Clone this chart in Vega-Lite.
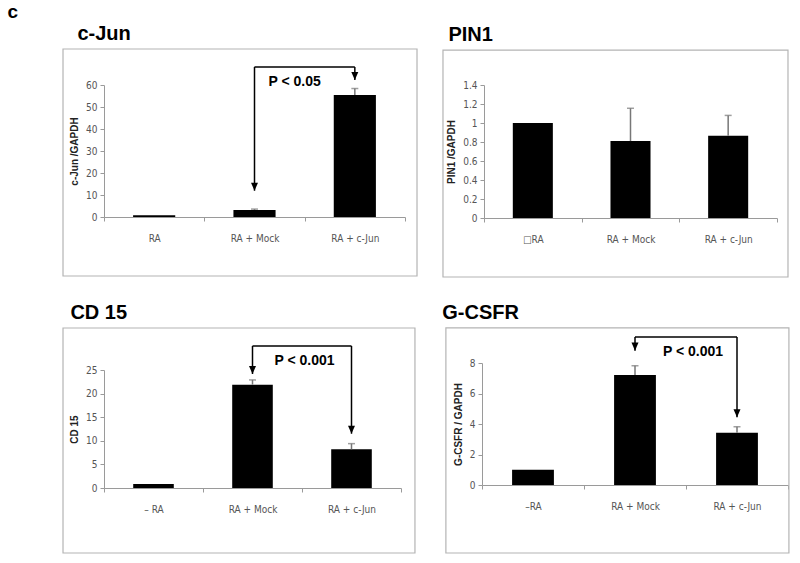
{
  "$schema": "https://vega.github.io/schema/vega-lite/v6.json",
  "padding": {"left": 7, "top": 3, "right": 5, "bottom": 5},
  "title": {"text": "c", "anchor": "start", "fontSize": 19, "fontWeight": "bold", "font": "Liberation Sans", "dx": -55, "offset": 2, "color": "#000"},
  "datasets": {
    "bars": [
      {"panel": "c-Jun", "group": "RA", "value": 0.8, "upper": null},
      {"panel": "c-Jun", "group": "RA + Mock", "value": 3.2, "upper": 3.6},
      {"panel": "c-Jun", "group": "RA + c-Jun", "value": 55.5, "upper": 58.4},
      {"panel": "PIN1", "group": "□RA", "value": 1.0, "upper": null},
      {"panel": "PIN1", "group": "RA + Mock", "value": 0.81, "upper": 1.155},
      {"panel": "PIN1", "group": "RA + c-Jun", "value": 0.865, "upper": 1.08},
      {"panel": "CD 15", "group": "– RA", "value": 0.85, "upper": null},
      {"panel": "CD 15", "group": "RA + Mock", "value": 21.9, "upper": 22.9},
      {"panel": "CD 15", "group": "RA + c-Jun", "value": 8.2, "upper": 9.4},
      {"panel": "G-CSFR", "group": "–RA", "value": 1.0, "upper": null},
      {"panel": "G-CSFR", "group": "RA + Mock", "value": 7.22, "upper": 7.82},
      {"panel": "G-CSFR", "group": "RA + c-Jun", "value": 3.42, "upper": 3.82}
    ],
    "brackets": [
      {"panel": "c-Jun", "from": "RA + Mock", "to": "RA + c-Jun", "top": 68.2, "tipFrom": 11.95, "tipTo": 62.3, "label": "P < 0.05"},
      {"panel": "CD 15", "from": "RA + Mock", "to": "RA + c-Jun", "top": 30.08, "tipFrom": 24.15, "tipTo": 11.5, "label": "P < 0.001"},
      {"panel": "G-CSFR", "from": "RA + Mock", "to": "RA + c-Jun", "top": 9.7, "tipFrom": 8.81, "tipTo": 4.44, "label": "P < 0.001"}
    ]
  },
  "columns": 2,
  "align": "none",
  "spacing": {"row": 25, "column": 24},
  "concat": [
    {
      "title": {"text": "c-Jun", "anchor": "start", "dx": 15, "fontSize": 20, "fontWeight": "bold", "font": "Liberation Sans", "offset": 4, "color": "#000"},
      "width": 301, "height": 132,
      "resolve": {"scale": {"x": "independent"}},
      "layer": [
        {"data": {"values": [{}]}, "mark": {"type": "rect", "fill": null, "stroke": "#b4b4b4", "strokeWidth": 1.2},
         "encoding": {
           "x": {"datum": -0.1362, "type": "quantitative", "scale": {"domain": [0, 1], "nice": false, "zero": false}, "axis": null},
           "x2": {"datum": 1.0399},
           "y": {"datum": 76.36, "type": "quantitative", "scale": {"domain": [0, 60], "nice": false}, "axis": {"title": "c-Jun /GAPDH", "values": [0, 10, 20, 30, 40, 50, 60], "tickCount": 7}},
           "y2": {"datum": -26.82}}},
        {"layer": [
          {"data": {"name": "bars"}, "transform": [{"filter": "datum.panel === 'c-Jun'"}],
           "layer": [
             {"mark": {"type": "bar", "color": "#000", "width": {"band": 0.42}},
              "encoding": {
                "x": {"field": "group", "type": "nominal", "sort": null, "scale": {"domain": ["RA", "RA + Mock", "RA + c-Jun"], "paddingInner": 0, "paddingOuter": 0}, "axis": {"title": null}},
                "y": {"field": "value", "type": "quantitative", "scale": {"domain": [0, 60], "nice": false}, "axis": {"title": "c-Jun /GAPDH", "values": [0, 10, 20, 30, 40, 50, 60], "tickCount": 7}}}},
             {"transform": [{"filter": "datum.upper != null"}], "mark": {"type": "rule", "color": "#777", "strokeWidth": 1.5},
              "encoding": {"x": {"field": "group", "type": "nominal", "sort": null}, "y": {"field": "value", "type": "quantitative"}, "y2": {"field": "upper"}}},
             {"transform": [{"filter": "datum.upper != null"}], "mark": {"type": "tick", "color": "#777", "size": 7, "thickness": 1.5},
              "encoding": {"x": {"field": "group", "type": "nominal", "sort": null}, "y": {"field": "upper", "type": "quantitative"}}}
           ]},
          {"data": {"name": "brackets"}, "transform": [{"filter": "datum.panel === 'c-Jun'"}],
           "layer": [
             {"mark": {"type": "rule", "color": "#000", "strokeWidth": 1.5},
              "encoding": {"x": {"field": "from", "type": "nominal", "sort": null}, "x2": {"field": "to"}, "y": {"field": "top", "type": "quantitative"}}},
             {"mark": {"type": "rule", "color": "#000", "strokeWidth": 1.5},
              "encoding": {"x": {"field": "from", "type": "nominal", "sort": null}, "y": {"field": "top", "type": "quantitative"}, "y2": {"field": "tipFrom"}}},
             {"mark": {"type": "rule", "color": "#000", "strokeWidth": 1.5},
              "encoding": {"x": {"field": "to", "type": "nominal", "sort": null}, "y": {"field": "top", "type": "quantitative"}, "y2": {"field": "tipTo"}}},
             {"mark": {"type": "point", "shape": "M-1,-2.3L1,-2.3L0,0Z", "filled": true, "color": "#000", "opacity": 1, "size": 49},
              "encoding": {"x": {"field": "from", "type": "nominal", "sort": null}, "y": {"field": "tipFrom", "type": "quantitative"}}},
             {"mark": {"type": "point", "shape": "M-1,-2.3L1,-2.3L0,0Z", "filled": true, "color": "#000", "opacity": 1, "size": 49},
              "encoding": {"x": {"field": "to", "type": "nominal", "sort": null}, "y": {"field": "tipTo", "type": "quantitative"}}},
             {"mark": {"type": "text", "align": "left", "baseline": "alphabetic", "dx": 14, "dy": 19, "fontSize": 14, "fontWeight": "bold", "font": "Liberation Sans", "color": "#000"},
              "encoding": {"x": {"field": "from", "type": "nominal", "sort": null}, "y": {"field": "top", "type": "quantitative"}, "text": {"field": "label"}}}
           ]}
        ]}
      ]
    },
    {
      "title": {"text": "PIN1", "anchor": "start", "dx": 6, "fontSize": 20, "fontWeight": "bold", "font": "Liberation Sans", "offset": 4, "color": "#000"},
      "width": 293, "height": 133,
      "resolve": {"scale": {"x": "independent"}},
      "layer": [
        {"data": {"values": [{}]}, "mark": {"type": "rect", "fill": null, "stroke": "#b4b4b4", "strokeWidth": 1.2},
         "encoding": {
           "x": {"datum": -0.14, "type": "quantitative", "scale": {"domain": [0, 1], "nice": false, "zero": false}, "axis": null},
           "x2": {"datum": 1.0375},
           "y": {"datum": 1.768, "type": "quantitative", "scale": {"domain": [0, 1.4], "nice": false}, "axis": {"title": "PIN1 /GAPDH", "values": [0, 0.2, 0.4, 0.6, 0.8, 1, 1.2, 1.4], "tickCount": 8, "format": "~g"}},
           "y2": {"datum": -0.621}}},
        {"data": {"name": "bars"}, "transform": [{"filter": "datum.panel === 'PIN1'"}],
         "layer": [
           {"mark": {"type": "bar", "color": "#000", "width": {"band": 0.41}},
            "encoding": {
              "x": {"field": "group", "type": "nominal", "sort": null, "scale": {"domain": ["□RA", "RA + Mock", "RA + c-Jun"], "paddingInner": 0, "paddingOuter": 0}, "axis": {"title": null}},
              "y": {"field": "value", "type": "quantitative", "scale": {"domain": [0, 1.4], "nice": false}, "axis": {"title": "PIN1 /GAPDH", "values": [0, 0.2, 0.4, 0.6, 0.8, 1, 1.2, 1.4], "tickCount": 8, "format": "~g"}}}},
           {"transform": [{"filter": "datum.upper != null"}], "mark": {"type": "rule", "color": "#777", "strokeWidth": 1.5},
            "encoding": {"x": {"field": "group", "type": "nominal", "sort": null}, "y": {"field": "value", "type": "quantitative"}, "y2": {"field": "upper"}}},
           {"transform": [{"filter": "datum.upper != null"}], "mark": {"type": "tick", "color": "#777", "size": 7, "thickness": 1.5},
            "encoding": {"x": {"field": "group", "type": "nominal", "sort": null}, "y": {"field": "upper", "type": "quantitative"}}}
         ]}
      ]
    },
    {
      "title": {"text": "CD 15", "anchor": "start", "dx": 8, "fontSize": 20, "fontWeight": "bold", "font": "Liberation Sans", "offset": 4, "color": "#000"},
      "width": 297, "height": 118,
      "resolve": {"scale": {"x": "independent"}},
      "layer": [
        {"data": {"values": [{}]}, "mark": {"type": "rect", "fill": null, "stroke": "#b4b4b4", "strokeWidth": 1.2},
         "encoding": {
           "x": {"datum": -0.138, "type": "quantitative", "scale": {"domain": [0, 1], "nice": false, "zero": false}, "axis": null},
           "x2": {"datum": 1.047},
           "y": {"datum": 33.9, "type": "quantitative", "scale": {"domain": [0, 25], "nice": false}, "axis": {"title": "CD 15", "values": [0, 5, 10, 15, 20, 25], "tickCount": 6}},
           "y2": {"datum": -13.77}}},
        {"layer": [
          {"data": {"name": "bars"}, "transform": [{"filter": "datum.panel === 'CD 15'"}],
           "layer": [
             {"mark": {"type": "bar", "color": "#000", "width": {"band": 0.41}},
              "encoding": {
                "x": {"field": "group", "type": "nominal", "sort": null, "scale": {"domain": ["– RA", "RA + Mock", "RA + c-Jun"], "paddingInner": 0, "paddingOuter": 0}, "axis": {"title": null}},
                "y": {"field": "value", "type": "quantitative", "scale": {"domain": [0, 25], "nice": false}, "axis": {"title": "CD 15", "values": [0, 5, 10, 15, 20, 25], "tickCount": 6}}}},
             {"transform": [{"filter": "datum.upper != null"}], "mark": {"type": "rule", "color": "#777", "strokeWidth": 1.5},
              "encoding": {"x": {"field": "group", "type": "nominal", "sort": null}, "y": {"field": "value", "type": "quantitative"}, "y2": {"field": "upper"}}},
             {"transform": [{"filter": "datum.upper != null"}], "mark": {"type": "tick", "color": "#777", "size": 7, "thickness": 1.5},
              "encoding": {"x": {"field": "group", "type": "nominal", "sort": null}, "y": {"field": "upper", "type": "quantitative"}}}
           ]},
          {"data": {"name": "brackets"}, "transform": [{"filter": "datum.panel === 'CD 15'"}],
           "layer": [
             {"mark": {"type": "rule", "color": "#000", "strokeWidth": 1.5},
              "encoding": {"x": {"field": "from", "type": "nominal", "sort": null}, "x2": {"field": "to"}, "y": {"field": "top", "type": "quantitative"}}},
             {"mark": {"type": "rule", "color": "#000", "strokeWidth": 1.5},
              "encoding": {"x": {"field": "from", "type": "nominal", "sort": null}, "y": {"field": "top", "type": "quantitative"}, "y2": {"field": "tipFrom"}}},
             {"mark": {"type": "rule", "color": "#000", "strokeWidth": 1.5},
              "encoding": {"x": {"field": "to", "type": "nominal", "sort": null}, "y": {"field": "top", "type": "quantitative"}, "y2": {"field": "tipTo"}}},
             {"mark": {"type": "point", "shape": "M-1,-2.3L1,-2.3L0,0Z", "filled": true, "color": "#000", "opacity": 1, "size": 49},
              "encoding": {"x": {"field": "from", "type": "nominal", "sort": null}, "y": {"field": "tipFrom", "type": "quantitative"}}},
             {"mark": {"type": "point", "shape": "M-1,-2.3L1,-2.3L0,0Z", "filled": true, "color": "#000", "opacity": 1, "size": 49},
              "encoding": {"x": {"field": "to", "type": "nominal", "sort": null}, "y": {"field": "tipTo", "type": "quantitative"}}},
             {"mark": {"type": "text", "align": "left", "baseline": "alphabetic", "dx": 22, "dy": 19, "fontSize": 14, "fontWeight": "bold", "font": "Liberation Sans", "color": "#000"},
              "encoding": {"x": {"field": "from", "type": "nominal", "sort": null}, "y": {"field": "top", "type": "quantitative"}, "text": {"field": "label"}}}
           ]}
        ]}
      ]
    },
    {
      "title": {"text": "G-CSFR", "anchor": "start", "dx": -3, "fontSize": 20, "fontWeight": "bold", "font": "Liberation Sans", "offset": 4, "color": "#000"},
      "width": 306, "height": 122,
      "resolve": {"scale": {"x": "independent"}},
      "layer": [
        {"data": {"values": [{}]}, "mark": {"type": "rect", "fill": null, "stroke": "#b4b4b4", "strokeWidth": 1.2},
         "encoding": {
           "x": {"datum": -0.118, "type": "quantitative", "scale": {"domain": [0, 1], "nice": false, "zero": false}, "axis": null},
           "x2": {"datum": 1.003},
           "y": {"datum": 10.3, "type": "quantitative", "scale": {"domain": [0, 8], "nice": false}, "axis": {"title": "G-CSFR / GAPDH", "values": [0, 2, 4, 6, 8], "tickCount": 5}},
           "y2": {"datum": -4.46}}},
        {"layer": [
          {"data": {"name": "bars"}, "transform": [{"filter": "datum.panel === 'G-CSFR'"}],
           "layer": [
             {"mark": {"type": "bar", "color": "#000", "width": {"band": 0.41}},
              "encoding": {
                "x": {"field": "group", "type": "nominal", "sort": null, "scale": {"domain": ["–RA", "RA + Mock", "RA + c-Jun"], "paddingInner": 0, "paddingOuter": 0}, "axis": {"title": null}},
                "y": {"field": "value", "type": "quantitative", "scale": {"domain": [0, 8], "nice": false}, "axis": {"title": "G-CSFR / GAPDH", "values": [0, 2, 4, 6, 8], "tickCount": 5}}}},
             {"transform": [{"filter": "datum.upper != null"}], "mark": {"type": "rule", "color": "#777", "strokeWidth": 1.5},
              "encoding": {"x": {"field": "group", "type": "nominal", "sort": null}, "y": {"field": "value", "type": "quantitative"}, "y2": {"field": "upper"}}},
             {"transform": [{"filter": "datum.upper != null"}], "mark": {"type": "tick", "color": "#777", "size": 7, "thickness": 1.5},
              "encoding": {"x": {"field": "group", "type": "nominal", "sort": null}, "y": {"field": "upper", "type": "quantitative"}}}
           ]},
          {"data": {"name": "brackets"}, "transform": [{"filter": "datum.panel === 'G-CSFR'"}],
           "layer": [
             {"mark": {"type": "rule", "color": "#000", "strokeWidth": 1.5},
              "encoding": {"x": {"field": "from", "type": "nominal", "sort": null}, "x2": {"field": "to"}, "y": {"field": "top", "type": "quantitative"}}},
             {"mark": {"type": "rule", "color": "#000", "strokeWidth": 1.5},
              "encoding": {"x": {"field": "from", "type": "nominal", "sort": null}, "y": {"field": "top", "type": "quantitative"}, "y2": {"field": "tipFrom"}}},
             {"mark": {"type": "rule", "color": "#000", "strokeWidth": 1.5},
              "encoding": {"x": {"field": "to", "type": "nominal", "sort": null}, "y": {"field": "top", "type": "quantitative"}, "y2": {"field": "tipTo"}}},
             {"mark": {"type": "point", "shape": "M-1,-2.3L1,-2.3L0,0Z", "filled": true, "color": "#000", "opacity": 1, "size": 49},
              "encoding": {"x": {"field": "from", "type": "nominal", "sort": null}, "y": {"field": "tipFrom", "type": "quantitative"}}},
             {"mark": {"type": "point", "shape": "M-1,-2.3L1,-2.3L0,0Z", "filled": true, "color": "#000", "opacity": 1, "size": 49},
              "encoding": {"x": {"field": "to", "type": "nominal", "sort": null}, "y": {"field": "tipTo", "type": "quantitative"}}},
             {"mark": {"type": "text", "align": "left", "baseline": "alphabetic", "dx": 28, "dy": 19, "fontSize": 14, "fontWeight": "bold", "font": "Liberation Sans", "color": "#000"},
              "encoding": {"x": {"field": "from", "type": "nominal", "sort": null}, "y": {"field": "top", "type": "quantitative"}, "text": {"field": "label"}}}
           ]}
        ]}
      ]
    }
  ],
  "config": {
    "view": {"stroke": null},
    "font": "Liberation Sans",
    "axis": {
      "grid": false,
      "domainColor": "#9a9a9a",
      "tickColor": "#9a9a9a",
      "tickSize": 4,
      "labelColor": "#555",
      "labelFont": "Liberation Sans Narrow, DejaVu Sans Condensed, Liberation Sans, sans-serif",
      "labelFontSize": 10,
      "labelOverlap": false,
      "titleFont": "Liberation Sans",
      "titleFontSize": 10,
      "titleFontWeight": "bold",
      "titleColor": "#222"
    },
    "axisX": {"labelAngle": 0, "labelPadding": 12, "tickBand": "extent"},
    "axisY": {"labelPadding": 3, "titlePadding": 6}
  }
}
